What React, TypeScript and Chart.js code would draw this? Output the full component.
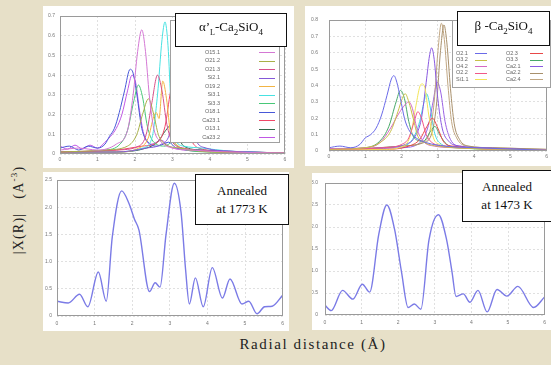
import React, { useEffect, useRef } from "react";
import { Chart, registerables } from "chart.js";
Chart.register(...registerables);

type Pt = [number, number];

// ---------- Top-left: alpha'L-Ca2SiO4 partial curves ----------
const tlNames = ["O15.1", "O21.2", "O21.3", "Si2.1", "O19.2", "Si3.1", "Si3.3", "O18.1", "Ca23.1", "O13.1", "Ca23.2"];
const tlColors = ["#d478d4", "#a8b048", "#d8508a", "#8458d8", "#f2b444", "#48e2e2", "#48c878", "#4858d8", "#f04868", "#2f6a48", "#c058e4"];
const tlO15_1: Pt[] = [[0, 0.02], [0.5, 0.03], [1.0, 0.02], [1.5, 0.05], [1.8, 0.12], [1.95, 0.3], [2.07, 0.52], [2.18, 0.63], [2.28, 0.52], [2.38, 0.3], [2.5, 0.13], [2.7, 0.06], [3.0, 0.03], [3.5, 0.02], [4.5, 0.01], [6, 0.005]];
const tlO21_2: Pt[] = [[0, 0.01], [1.2, 0.02], [1.8, 0.04], [2.05, 0.1], [2.2, 0.2], [2.36, 0.28], [2.5, 0.2], [2.62, 0.1], [2.8, 0.05], [3.2, 0.03], [4, 0.01], [6, 0.005]];
const tlO21_3: Pt[] = [[0, 0.01], [1.5, 0.02], [2.1, 0.04], [2.3, 0.1], [2.45, 0.26], [2.6, 0.4], [2.72, 0.32], [2.85, 0.15], [3.0, 0.06], [3.3, 0.03], [4, 0.015], [6, 0.005]];
const tlSi2_1: Pt[] = [[0, 0.01], [1.5, 0.01], [2.3, 0.03], [2.7, 0.05], [2.92, 0.1], [3.07, 0.25], [3.22, 0.37], [3.35, 0.3], [3.5, 0.14], [3.65, 0.06], [3.9, 0.03], [4.5, 0.015], [6, 0.005]];
const tlO19_2: Pt[] = [[0, 0.01], [1.5, 0.01], [2.1, 0.03], [2.35, 0.08], [2.5, 0.19], [2.57, 0.21], [2.64, 0.18], [2.74, 0.37], [2.84, 0.28], [2.95, 0.1], [3.1, 0.05], [3.5, 0.02], [6, 0.005]];
const tlSi3_1: Pt[] = [[0, 0.01], [1.5, 0.01], [2.2, 0.03], [2.45, 0.08], [2.6, 0.3], [2.72, 0.58], [2.8, 0.67], [2.88, 0.55], [2.96, 0.25], [3.06, 0.08], [3.3, 0.04], [3.8, 0.03], [4.5, 0.015], [6, 0.005]];
const tlSi3_3: Pt[] = [[0, 0.01], [1.2, 0.02], [1.6, 0.05], [1.8, 0.12], [1.97, 0.27], [2.09, 0.35], [2.2, 0.29], [2.33, 0.14], [2.5, 0.06], [2.8, 0.04], [3.0, 0.06], [3.2, 0.03], [4, 0.01], [6, 0.005]];
const tlO18_1: Pt[] = [[0, 0.03], [0.25, 0.04], [0.5, 0.02], [0.75, 0.04], [1.0, 0.03], [1.2, 0.05], [1.32, 0.09], [1.45, 0.13], [1.58, 0.21], [1.72, 0.32], [1.87, 0.43], [1.95, 0.41], [2.05, 0.3], [2.18, 0.13], [2.35, 0.06], [2.6, 0.04], [2.9, 0.06], [3.1, 0.03], [3.6, 0.02], [6, 0.005]];
const tlCa23_1: Pt[] = [[0, 0.01], [1.5, 0.02], [2.2, 0.04], [2.6, 0.06], [2.8, 0.14], [2.95, 0.32], [3.07, 0.41], [3.18, 0.37], [3.32, 0.2], [3.48, 0.08], [3.7, 0.03], [4.3, 0.015], [6, 0.005]];
const tlO13_1: Pt[] = [[0, 0.01], [1.5, 0.01], [2.3, 0.03], [2.6, 0.06], [2.82, 0.12], [2.98, 0.15], [3.12, 0.1], [3.3, 0.04], [3.8, 0.02], [6, 0.005]];
const tlCa23_2: Pt[] = [[0, 0.04], [0.2, 0.025], [0.4, 0.045], [0.6, 0.025], [0.8, 0.045], [1.0, 0.03], [1.2, 0.06], [1.35, 0.09], [1.5, 0.13], [1.65, 0.2], [1.8, 0.32], [1.92, 0.4], [2.02, 0.36], [2.12, 0.22], [2.25, 0.09], [2.45, 0.05], [2.7, 0.07], [2.9, 0.04], [3.3, 0.02], [4.5, 0.01], [6, 0.005]];
const tlData: Pt[][] = [tlO15_1, tlO21_2, tlO21_3, tlSi2_1, tlO19_2, tlSi3_1, tlSi3_3, tlO18_1, tlCa23_1, tlO13_1, tlCa23_2];

// ---------- Top-right: beta-Ca2SiO4 partial curves ----------
const trNames = ["O2.1", "O3.2", "O4.2", "O2.2", "Si1.1", "O2.3", "O3.3", "Ca2.1", "Ca2.2", "Ca2.4"];
const trColors = ["#6a6ae8", "#c8c048", "#d468c4", "#f05888", "#f2e458", "#e84848", "#48a868", "#8a5ae0", "#a8906c", "#c0a682"];
const trO2_1: Pt[] = [[0, 0.02], [0.3, 0.03], [0.6, 0.02], [0.85, 0.04], [1.0, 0.08], [1.15, 0.1], [1.3, 0.14], [1.45, 0.22], [1.6, 0.34], [1.72, 0.44], [1.79, 0.46], [1.87, 0.42], [1.97, 0.32], [2.08, 0.2], [2.2, 0.13], [2.4, 0.08], [2.7, 0.05], [3.2, 0.03], [4, 0.02], [6, 0.005]];
const trO3_2: Pt[] = [[0, 0.01], [1.0, 0.02], [1.4, 0.05], [1.7, 0.12], [1.9, 0.24], [2.02, 0.32], [2.1, 0.35], [2.2, 0.3], [2.32, 0.2], [2.45, 0.09], [2.65, 0.05], [3.0, 0.03], [4, 0.015], [6, 0.005]];
const trO4_2: Pt[] = [[0, 0.015], [1.0, 0.02], [1.4, 0.05], [1.7, 0.14], [1.9, 0.22], [2.05, 0.27], [2.2, 0.3], [2.3, 0.26], [2.42, 0.14], [2.6, 0.06], [2.9, 0.03], [3.5, 0.02], [6, 0.005]];
const trO2_2: Pt[] = [[0, 0.01], [1.5, 0.02], [2.0, 0.04], [2.2, 0.08], [2.35, 0.18], [2.45, 0.24], [2.55, 0.2], [2.68, 0.1], [2.85, 0.05], [3.2, 0.03], [6, 0.005]];
const trSi1_1: Pt[] = [[0, 0.01], [1.5, 0.01], [2.05, 0.03], [2.25, 0.1], [2.4, 0.28], [2.5, 0.39], [2.56, 0.41], [2.65, 0.38], [2.75, 0.22], [2.88, 0.08], [3.05, 0.04], [3.5, 0.02], [6, 0.005]];
const trO2_3: Pt[] = [[0, 0.01], [1.5, 0.01], [2.2, 0.03], [2.5, 0.07], [2.7, 0.15], [2.85, 0.2], [3.0, 0.14], [3.15, 0.06], [3.4, 0.03], [6, 0.005]];
const trO3_3: Pt[] = [[0, 0.01], [1.0, 0.02], [1.4, 0.06], [1.65, 0.15], [1.85, 0.3], [1.97, 0.37], [2.08, 0.32], [2.2, 0.18], [2.35, 0.08], [2.6, 0.06], [2.8, 0.12], [2.92, 0.15], [3.05, 0.1], [3.25, 0.04], [3.6, 0.02], [6, 0.005]];
const trCa2_1: Pt[] = [[0, 0.01], [1.5, 0.02], [2.1, 0.04], [2.35, 0.08], [2.55, 0.2], [2.68, 0.42], [2.77, 0.58], [2.83, 0.63], [2.9, 0.56], [3.0, 0.32], [3.12, 0.14], [3.3, 0.06], [3.6, 0.03], [4.2, 0.02], [6, 0.005]];
const trCa2_2: Pt[] = [[0, 0.01], [1.0, 0.015], [2.0, 0.03], [2.6, 0.05], [2.85, 0.12], [2.97, 0.3], [3.07, 0.6], [3.17, 0.77], [3.25, 0.66], [3.35, 0.38], [3.45, 0.17], [3.6, 0.07], [3.85, 0.03], [4.5, 0.02], [6, 0.01]];
const trCa2_4: Pt[] = [[0, 0.01], [1.0, 0.015], [2.0, 0.03], [2.55, 0.05], [2.78, 0.12], [2.9, 0.3], [3.0, 0.6], [3.1, 0.78], [3.18, 0.68], [3.28, 0.4], [3.38, 0.18], [3.52, 0.08], [3.8, 0.03], [4.5, 0.02], [6, 0.01]];
const trExtraPurple: Pt[] = [[0, 0.01], [2.0, 0.02], [2.5, 0.05], [2.72, 0.14], [2.87, 0.3], [2.98, 0.42], [3.08, 0.36], [3.2, 0.18], [3.35, 0.07], [3.6, 0.03], [6, 0.005]];
const trExtraCyan: Pt[] = [[0, 0.01], [2.0, 0.03], [2.3, 0.07], [2.5, 0.18], [2.62, 0.3], [2.69, 0.35], [2.78, 0.28], [2.9, 0.12], [3.05, 0.05], [3.5, 0.02], [6, 0.005]];
const trData: Pt[][] = [trO2_1, trO3_2, trO4_2, trO2_2, trSi1_1, trO2_3, trO3_3, trCa2_1, trCa2_2, trCa2_4];

// ---------- Bottom: annealed samples ----------
const bl1773: Pt[] = [[0, 0.27], [0.3, 0.24], [0.6, 0.4], [0.82, 0.17], [1.1, 0.81], [1.31, 0.27], [1.47, 1.45], [1.72, 2.3], [1.92, 2.06], [2.06, 1.78], [2.18, 1.58], [2.46, 0.45], [2.61, 0.61], [2.74, 0.53], [2.9, 1.5], [3.12, 2.44], [3.3, 1.9], [3.42, 0.85], [3.52, 0.22], [3.68, 0.7], [3.89, 0.17], [4.13, 0.89], [4.4, 0.33], [4.6, 0.68], [4.92, 0.22], [5.1, 0.27], [5.32, 0.04], [5.52, 0.17], [5.72, 0.18], [6, 0.38]];
const br1473: Pt[] = [[0, 0.22], [0.17, 0.1], [0.48, 0.56], [0.76, 0.36], [1.02, 0.7], [1.22, 0.52], [1.47, 1.84], [1.69, 2.5], [1.9, 1.95], [2.09, 0.98], [2.27, 0.17], [2.44, 0.25], [2.62, 0.13], [2.84, 1.7], [3.1, 2.28], [3.32, 1.72], [3.47, 0.98], [3.58, 0.42], [3.78, 0.48], [3.96, 0.29], [4.18, 0.56], [4.43, 0.07], [4.7, 0.58], [4.97, 0.43], [5.27, 0.65], [5.7, 0.17], [6, 0.41]];

const xTicksMax = 6;

type Series = { label: string; color: string; data: Pt[]; width: number };

const boxPlugin = {
  id: "matlabBox",
  afterDraw(chart: any) {
    const { ctx, chartArea: a } = chart;
    ctx.save();
    ctx.strokeStyle = "#9a9a9a";
    ctx.lineWidth = 1;
    ctx.strokeRect(Math.round(a.left) + 0.5, Math.round(a.top) + 0.5, Math.round(a.right - a.left) - 1, Math.round(a.bottom - a.top) - 1);
    ctx.restore();
  },
};

type PanelProps = {
  x: number; y: number; w: number; h: number;
  axisW: number; axisH: number; padTop: number; padRight: number;
  yMax: number; yStep: number; yTickPad: number; xTickPad: number;
  series: Series[];
};

function Panel(p: PanelProps) {
  const ref = useRef<HTMLCanvasElement>(null);
  useEffect(() => {
    const chart = new Chart(ref.current as HTMLCanvasElement, {
      type: "line",
      data: {
        datasets: p.series.map((s) => ({
          label: s.label,
          data: s.data.map(([x, y]) => ({ x, y })),
          borderColor: s.color,
          borderWidth: s.width,
          pointRadius: 0,
          cubicInterpolationMode: "monotone",
          fill: false,
        })),
      },
      options: {
        responsive: false,
        animation: false,
        devicePixelRatio: 1,
        layout: { padding: { top: p.padTop, right: p.padRight, left: 0, bottom: 0 } },
        plugins: { legend: { display: false }, tooltip: { enabled: false } },
        scales: {
          x: {
            type: "linear",
            min: 0,
            max: xTicksMax,
            ticks: { stepSize: 1, font: { size: 5, family: "Liberation Sans" }, color: "#777", padding: p.xTickPad, maxRotation: 0 },
            grid: { color: "#e0e0e0", drawTicks: false },
            border: { display: false, dash: [2, 2] },
            afterFit: (s: any) => { s.height = p.axisH; },
          },
          y: {
            type: "linear",
            min: 0,
            max: p.yMax,
            ticks: { stepSize: p.yStep, font: { size: 5, family: "Liberation Sans" }, color: "#777", padding: p.yTickPad },
            grid: { color: "#e0e0e0", drawTicks: false },
            border: { display: false, dash: [2, 2] },
            afterFit: (s: any) => { s.width = p.axisW; },
          },
        },
      } as any,
      plugins: [boxPlugin],
    });
    return () => chart.destroy();
  }, []);
  return (
    <canvas
      ref={ref}
      width={p.w}
      height={p.h}
      style={{ position: "absolute", left: p.x, top: p.y, width: p.w, height: p.h, background: "#fff" }}
    />
  );
}

const serif = "'Liberation Serif', 'Times New Roman', serif";
const sans = "'Liberation Sans', Arial, sans-serif";

function NoteBox(props: { left: number; top: number; width: number; height: number; children: any }) {
  return (
    <div
      style={{
        position: "absolute", left: props.left, top: props.top, width: props.width, height: props.height,
        boxSizing: "border-box", border: "1.5px solid #111", background: "#fff",
        display: "flex", flexDirection: "column", alignItems: "center", justifyContent: "center",
        fontFamily: serif, fontSize: 13, lineHeight: "18px", color: "#111", whiteSpace: "nowrap",
      }}
    >
      {props.children}
    </div>
  );
}

export default function App() {
  const tlSeries: Series[] = tlData.map((d, i) => ({ label: tlNames[i], color: tlColors[i], data: d, width: 1 }));
  const trSeries: Series[] = [
    ...trData.map((d, i) => ({ label: trNames[i], color: trColors[i], data: d, width: 1 })),
    { label: "extra1", color: "#9a62e4", data: trExtraPurple, width: 1 },
    { label: "extra2", color: "#48d8e0", data: trExtraCyan, width: 1 },
  ];
  const blSeries: Series[] = [{ label: "1773 K", color: "#7b7be6", data: bl1773, width: 1.4 }];
  const brSeries: Series[] = [{ label: "1473 K", color: "#7b7be6", data: br1473, width: 1.4 }];

  return (
    <div style={{ position: "fixed", left: 0, top: 0, width: 551, height: 365, background: "#e7e0c8", overflow: "hidden" }}>
      <Panel x={43} y={6} w={251} h={162} axisW={17} axisH={14} padTop={10} padRight={9} yMax={0.7} yStep={0.1} yTickPad={5} xTickPad={3} series={tlSeries} />
      <Panel x={305} y={6} w={246} h={160} axisW={24} axisH={15} padTop={9} padRight={1} yMax={0.8} yStep={0.1} yTickPad={11} xTickPad={3} series={trSeries} />
      <Panel x={43} y={172} w={246} h={159} axisW={14} axisH={15} padTop={8} padRight={4} yMax={2.5} yStep={0.5} yTickPad={5} xTickPad={5} series={blSeries} />
      <Panel x={312} y={173} w={239} h={157} axisW={13} axisH={15} padTop={4} padRight={1} yMax={3} yStep={0.5} yTickPad={7} xTickPad={5} series={brSeries} />

      {/* Top-left legend */}
      <div style={{ position: "absolute", left: 170, top: 20, width: 110, height: 123, boxSizing: "border-box", border: "1px solid #a0a0a0", background: "#fff" }} />
      {tlNames.map((n, i) => (
        <React.Fragment key={n}>
          <div style={{ position: "absolute", left: 190, width: 30, top: 52 + i * 8.5 - 3.5, height: 7, textAlign: "right", fontFamily: sans, fontSize: 5.5, lineHeight: "7px", color: "#666" }}>{n}</div>
          <div style={{ position: "absolute", left: 259, width: 16, top: 52 + i * 8.5, height: 1, background: tlColors[i] }} />
        </React.Fragment>
      ))}
      <NoteBox left={175} top={13} width={112} height={34}>
        <span>α’<sub style={{ fontSize: 8 }}>L</sub>-Ca<sub style={{ fontSize: 9 }}>2</sub>SiO<sub style={{ fontSize: 9 }}>4</sub></span>
      </NoteBox>

      {/* Top-right legend */}
      <div style={{ position: "absolute", left: 452, top: 20, width: 99, height: 68, boxSizing: "border-box", border: "1px solid #a0a0a0", background: "#fff" }} />
      {trNames.map((n, i) => {
        const col = i < 5 ? 0 : 1;
        const row = i % 5;
        const cy = 53 + row * 6.5;
        return (
          <React.Fragment key={n}>
            <div style={{ position: "absolute", left: col ? 506 : 456, top: cy - 3.5, height: 7, fontFamily: sans, fontSize: 5.5, lineHeight: "7px", color: "#666" }}>{n}</div>
            <div style={{ position: "absolute", left: col ? 530 : 475, width: col ? 13 : 12, top: cy, height: 1, background: trColors[i] }} />
          </React.Fragment>
        );
      })}
      <NoteBox left={457} top={11} width={93} height={35}>
        <span>β -Ca<sub style={{ fontSize: 9 }}>2</sub>SiO<sub style={{ fontSize: 9 }}>4</sub></span>
      </NoteBox>

      {/* Bottom annotations */}
      <NoteBox left={195} top={174} width={94} height={51}>
        <span>Annealed</span>
        <span>at 1773 K</span>
      </NoteBox>
      <NoteBox left={462} top={170} width={90} height={52}>
        <span>Annealed</span>
        <span>at 1473 K</span>
      </NoteBox>

      {/* Axis titles */}
      <div style={{ position: "absolute", left: 18, top: 210, transform: "translate(-50%, -50%) rotate(-90deg)", fontFamily: serif, fontSize: 14, letterSpacing: 1.2, color: "#222", whiteSpace: "nowrap" }}>
        |X(R)|&nbsp;&nbsp;&nbsp;(A<sup style={{ fontSize: 9 }}>-3</sup>)
      </div>
      <div style={{ position: "absolute", left: 313, top: 344, transform: "translate(-50%, -50%)", fontFamily: serif, fontSize: 15, letterSpacing: 1.6, color: "#222", whiteSpace: "nowrap" }}>
        Radial distance (Å)
      </div>
    </div>
  );
}
